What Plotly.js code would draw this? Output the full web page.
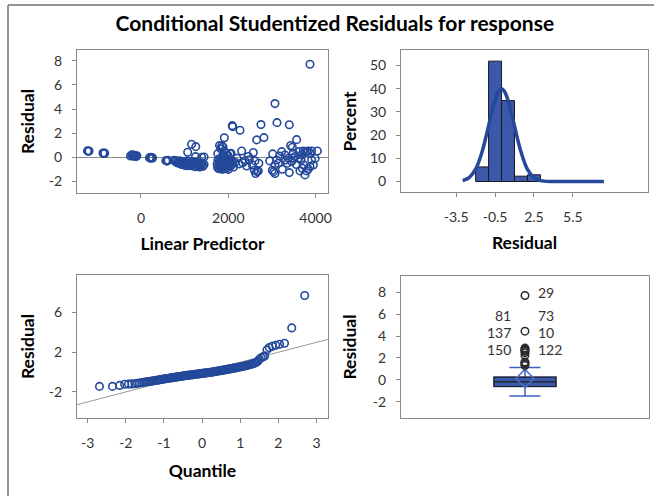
<!DOCTYPE html>
<html>
<head>
<meta charset="utf-8">
<script src="https://cdn.plot.ly/plotly-3.0.1.min.js"></script>
<style>html,body{margin:0;padding:0;background:#fff;}#chart{width:654px;height:496px;}</style>
</head>
<body>
<div id="chart"></div>
<script>
// ---------- DATA ----------
// Top-left: residual vs linear predictor
var predictor = [
  -1225,-1205,-1190, -870,-850,-830,
  -240,-210,-190,-170,-150,-130,-110,-95,
  195,215,235,250,265, 570,595,620,
  760,790,810,830,850,870,890,905,920,940,960,975,990,1010,1030,1050,1065,1080,1100,1120,
  1140,1160,1180,1200,1220,1240,1260,1280,1300,1320,1340,1360,1380,1400,1420,1445,
  1070,1160,1255,1390,1445,1250,
  1909,1800,1850,1880,1830,1760,1900,1950,2040,1990,
  1745,1755,1765,1775,1785,1795,1805,1815,1825,1835,1845,1855,1865,1875,1885,1895,1905,1915,
  1925,1935,1945,1955,1965,1975,1985,1995,2005,2015,2030,2045,2060,2080,2100,2120,1880,
  2306,2062,2199,2153,2383,2459,2574,2612,2551,2596,2657,2627,2688,3017,3108,3070,3146,3039,
  3070,3009,3238,3223,3299,3314,3375,3398,3452,3490,3528,3490,3429,3467,3566,3620,3681,3719,
  3757,3795,3833,3872,3910,4040,3666,3696,3643,3757,3795,3833,3872,3727,3948,3910,3605,
  2818,2650,2749,2268,2092,2100,3116,3398,3070,3872,
  2250,2330,2420,2480,2700,2950,3180,3350,3560,3990
];
var residual = [
  0.53,0.50,0.52, 0.35,0.32,0.34,
  0.10,0.20,0.12,0.18,0.08,0.15,0.06,0.12,
  -0.05,0.00,-0.08,-0.02,-0.06, -0.28,-0.32,-0.25,
  -0.25,-0.35,-0.30,-0.45,-0.40,-0.50,-0.30,-0.55,-0.45,-0.60,-0.35,-0.50,-0.65,-0.40,-0.55,-0.70,-0.30,-0.50,-0.60,-0.45,
  -0.70,-0.55,-0.35,-0.65,-0.50,-0.78,-0.40,-0.60,-0.72,-0.50,-0.80,-0.55,-0.65,-0.45,-0.75,-0.60,
  0.42,1.08,0.88,0.00,0.02,0.05,
  1.62,0.98,0.95,0.85,0.70,0.30,0.50,0.35,0.30,0.15,
  -0.55,-0.85,-0.20,-0.70,-0.95,-0.40,-0.10,-0.75,-0.60,-0.90,-0.30,-0.50,-1.00,-0.15,-0.65,-0.80,-0.35,0.05,
  -0.55,-0.95,-0.25,-0.70,-0.45,-0.85,0.10,-0.60,-1.00,-0.30,-0.75,-0.50,-0.20,-0.65,-0.40,-0.80,0.20,
  0.52,0.33,-0.08,-0.41,-0.30,0.06,0.39,-0.30,-0.64,-1.08,-1.19,-1.35,-1.13,0.28,-0.22,-0.64,-0.50,-1.19,
  -1.35,-1.08,-0.99,0.47,0.19,-0.22,-0.08,-1.27,-0.36,-0.08,0.06,0.33,0.97,0.83,1.46,0.47,0.19,0.52,
  0.41,0.47,0.52,0.33,0.52,0.52,-0.22,-0.91,-1.13,-1.46,-1.13,-0.97,-0.77,-0.64,-0.64,-0.22,-0.08,
  1.63,1.44,2.71,2.24,2.62,2.54,2.87,2.70,4.45,7.71,
  -0.55,-0.45,-0.72,-0.20,-0.50,-0.30,0.10,-0.50,-0.60,-0.10
];

// Top-right: histogram of residuals (percent) and fitted normal curve
var binMid = [-1.5, -0.5, 0.5, 1.5, 2.5];
var binPercent = [6.3, 51.9, 34.9, 2.3, 2.9];
var curveX = [-3.0,-2.5,-2.0,-1.5,-1.25,-1.0,-0.75,-0.5,-0.25,0.0,0.25,0.5,0.75,1.0,1.25,1.5,2.0,2.5,3.0,4.0,5.0,6.0,7.0,7.9];
var curveY = [0.4,1.7,5.3,12.8,18.2,24.0,30.0,35.0,38.7,40.0,38.6,35.0,29.8,24.0,18.0,12.8,5.2,1.7,0.4,0,0,0,0,0];
var histTicks = ['-3.5','-0.5','2.5','5.5'];

// Bottom-left: normal quantile plot
var qqQuantile = [-2.69,-2.35,-2.16,-2.03,-1.93,-1.84,-1.76,-1.70,-1.64,-1.58,-1.53,-1.48,-1.43,-1.39,-1.35,-1.31,-1.27,-1.23,-1.19,-1.15,
  -1.12,-1.08,-1.05,-1.01,-0.98,-0.94,-0.91,-0.88,-0.84,-0.81,-0.78,-0.75,-0.72,-0.69,-0.66,-0.63,-0.60,-0.57,-0.54,-0.51,
  -0.48,-0.45,-0.42,-0.39,-0.36,-0.33,-0.30,-0.27,-0.24,-0.21,-0.18,-0.15,-0.12,-0.09,-0.06,-0.03,0.00,0.03,0.06,0.09,
  0.12,0.15,0.18,0.21,0.24,0.27,0.30,0.33,0.36,0.39,0.42,0.45,0.48,0.51,0.54,0.57,0.60,0.63,0.66,0.70,
  0.73,0.76,0.80,0.83,0.87,0.90,0.94,0.98,1.02,1.06,1.10,1.14,1.18,1.22,1.26,1.30,1.34,1.38,1.42,1.46,
  1.50,1.55,1.60,1.64,1.70,1.76,1.84,1.93,2.03,2.16,2.35,2.69];
var qqResidual = [-1.44,-1.44,-1.34,-1.22,-1.21,-1.19,-1.17,-1.13,-1.10,-1.06,-1.02,-0.99,-0.96,-0.94,-0.92,-0.90,-0.87,-0.85,-0.82,-0.80,
  -0.78,-0.75,-0.73,-0.70,-0.68,-0.66,-0.64,-0.62,-0.60,-0.58,-0.56,-0.54,-0.52,-0.50,-0.49,-0.47,-0.45,-0.44,-0.42,-0.40,
  -0.38,-0.37,-0.35,-0.33,-0.32,-0.30,-0.29,-0.27,-0.26,-0.24,-0.22,-0.21,-0.19,-0.18,-0.16,-0.15,-0.13,-0.12,-0.10,-0.09,
  -0.07,-0.06,-0.04,-0.02,-0.01,0.01,0.03,0.05,0.07,0.09,0.11,0.13,0.15,0.17,0.19,0.21,0.23,0.25,0.27,0.30,
  0.32,0.35,0.37,0.40,0.42,0.45,0.48,0.51,0.54,0.57,0.60,0.64,0.68,0.72,0.76,0.80,0.85,0.92,1.00,1.08,
  1.30,1.44,1.55,1.63,2.24,2.48,2.60,2.70,2.80,2.90,4.45,7.71];
var qqLineX = [-3.28, 3.30];
var qqLineY = [-3.28, 3.30];

// Bottom-right: box plot of residuals
var boxQ1 = -0.61, boxMedian = -0.19, boxQ3 = 0.24, boxLow = -1.47, boxHigh = 1.12, boxMean = 0.12;
var outlierValues = [7.71, 4.45, 2.90, 2.80, 2.70, 2.60, 2.48, 2.24, 1.63, 1.55, 1.44, 1.30];
var outlierIdsLeft = ['81', '137', '150'];
var outlierIdsRight = ['29', '73', '10', '122'];

// ---------- STYLE ----------
var FONT = 'Lato, "Open Sans", "Liberation Sans", sans-serif';
var blue = '#24499a';
var fillBlue = '#3b58aa';
var frame = '#8a8a8a';
var tickFont = {family: FONT, size: 14, color: '#333'};
var titleFont = {family: FONT, size: 17.5, color: '#000', weight: 'bold'};

function axisBase(extra) {
  var a = {
    showline: true, mirror: true, linecolor: frame, linewidth: 1,
    showgrid: false, zeroline: false,
    ticks: 'outside', ticklen: 4, tickcolor: frame, tickwidth: 1,
    tickfont: tickFont, fixedrange: true
  };
  for (var k in extra) a[k] = extra[k];
  return a;
}

var traces = [
  {type: 'scatter', mode: 'markers', x: predictor, y: residual, xaxis: 'x', yaxis: 'y',
   marker: {symbol: 'circle-open', size: 7.5, color: blue, line: {width: 1.6}}, hoverinfo: 'skip'},
  {type: 'bar', x: binMid, y: binPercent, width: 1, xaxis: 'x2', yaxis: 'y2',
   marker: {color: fillBlue, line: {color: '#1a1a1a', width: 1}}, hoverinfo: 'skip'},
  {type: 'scatter', mode: 'lines', x: curveX, y: curveY, xaxis: 'x2', yaxis: 'y2',
   line: {color: blue, width: 3.5, shape: 'spline'}, hoverinfo: 'skip'},
  {type: 'scatter', mode: 'lines', x: qqLineX, y: qqLineY, xaxis: 'x3', yaxis: 'y3',
   line: {color: '#9a9a9a', width: 1}, hoverinfo: 'skip'},
  {type: 'scatter', mode: 'markers', x: qqQuantile, y: qqResidual, xaxis: 'x3', yaxis: 'y3',
   marker: {symbol: 'circle-open', size: 7.5, color: blue, line: {width: 1.6}}, hoverinfo: 'skip'},
  {type: 'box', x: [0], q1: [boxQ1], median: [boxMedian], q3: [boxQ3], lowerfence: [boxLow], upperfence: [boxHigh],
   width: 1, whiskerwidth: 0.5, xaxis: 'x4', yaxis: 'y4', fillcolor: fillBlue,
   line: {color: '#3b62bd', width: 1.5}, hoverinfo: 'skip'},
  {type: 'box', x: [0], q1: [boxQ1], median: [boxMedian], q3: [boxQ3], lowerfence: [boxQ1], upperfence: [boxQ3],
   width: 1, whiskerwidth: 0, xaxis: 'x4', yaxis: 'y4', fillcolor: fillBlue,
   line: {color: '#1e1e1e', width: 1.2}, hoverinfo: 'skip'},
  {type: 'scatter', mode: 'markers', x: [0], y: [boxMean], xaxis: 'x4', yaxis: 'y4',
   marker: {symbol: 'diamond-open', size: 14, color: '#4a6fcc', line: {width: 1.5}}, hoverinfo: 'skip'},
  {type: 'scatter', mode: 'markers', x: outlierValues.map(function(){return 0;}), y: outlierValues, xaxis: 'x4', yaxis: 'y4',
   marker: {symbol: 'circle-open', size: 7.5, color: '#2a2a2a', line: {width: 1.5}}, hoverinfo: 'skip'}
];

// label placement (layout only)
var leftLabelY = [5.84, 4.35, 2.80];
var rightLabelY = [7.97, 5.84, 4.35, 2.80];
var annotations = [];
outlierIdsLeft.forEach(function(t, i) {
  annotations.push({xref: 'x4', yref: 'y4', x: -0.19, y: leftLabelY[i], text: t, showarrow: false,
    xanchor: 'right', yanchor: 'middle', font: {family: FONT, size: 14, color: '#333'}});
});
outlierIdsRight.forEach(function(t, i) {
  annotations.push({xref: 'x4', yref: 'y4', x: 0.17, y: rightLabelY[i], text: t, showarrow: false,
    xanchor: 'left', yanchor: 'middle', font: {family: FONT, size: 14, color: '#333'}});
});

var layout = {
  width: 654, height: 496,
  margin: {l: 0, r: 0, t: 0, b: 0},
  paper_bgcolor: '#fff', plot_bgcolor: '#fff',
  showlegend: false,
  boxmode: 'overlay',
  title: {text: '<b>Conditional Studentized Residuals for response</b>', x: 0.512, xanchor: 'center',
          y: 0.953, yanchor: 'middle', font: {family: FONT, size: 21, color: '#000'}},
  xaxis: axisBase({domain: [0.1177, 0.5015], range: [-1466, 4284], tickvals: [0, 2000, 4000],
    ticklabelstandoff: 8, title: {text: 'Linear Predictor', font: titleFont, standoff: 12}, anchor: 'y'}),
  yaxis: axisBase({domain: [0.6109, 0.8992], range: [-2.96, 8.89], tickvals: [-2, 0, 2, 4, 6, 8],
    ticktext: ['-2', '0', '2', '4', '6', '8'], zeroline: true, zerolinecolor: '#8a8a8a', zerolinewidth: 1,
    ticklabelstandoff: 7, title: {text: 'Residual', font: titleFont, standoff: 9}, anchor: 'x'}),
  xaxis2: axisBase({domain: [0.6131, 0.9908], range: [-7.76, 11.3], tickvals: [-3.5, -0.5, 2.5, 5.5],
    ticktext: histTicks, ticklabelstandoff: 8, title: {text: 'Residual', font: titleFont, standoff: 12}, anchor: 'y2'}),
  yaxis2: axisBase({domain: [0.6119, 0.8982], range: [-4.74, 56.5], tickvals: [0, 10, 20, 30, 40, 50],
    ticklabelstandoff: 7, title: {text: 'Percent', font: titleFont, standoff: 8}, anchor: 'x2'}),
  xaxis3: axisBase({domain: [0.1177, 0.5015], range: [-3.28, 3.30], tickvals: [-3, -2, -1, 0, 1, 2, 3],
    ticktext: ['-3', '-2', '-1', '0', '1', '2', '3'], ticklabelstandoff: 8,
    title: {text: 'Quantile', font: titleFont, standoff: 14}, anchor: 'y3'}),
  yaxis3: axisBase({domain: [0.1573, 0.4456], range: [-4.62, 9.78], tickvals: [-2, 2, 6],
    ticktext: ['-2', '2', '6'], ticklabelstandoff: 7, title: {text: 'Residual', font: titleFont, standoff: 9}, anchor: 'x3'}),
  xaxis4: axisBase({domain: [0.6131, 0.9923], range: [-2, 2], showticklabels: false, ticks: '', anchor: 'y4'}),
  yaxis4: axisBase({domain: [0.1573, 0.4435], range: [-3.49, 9.49], tickvals: [-2, 0, 2, 4, 6, 8],
    ticktext: ['-2', '0', '2', '4', '6', '8'], ticklabelstandoff: 7,
    title: {text: 'Residual', font: titleFont, standoff: 11}, anchor: 'x4'}),
  annotations: annotations,
  shapes: [
    {type: 'line', xref: 'paper', yref: 'paper', x0: 8 / 654, x1: 1, y0: 1 - 5 / 496, y1: 1 - 5 / 496,
     line: {color: '#707070', width: 1.5}},
    {type: 'line', xref: 'paper', yref: 'paper', x0: 8 / 654, x1: 8 / 654, y0: 0, y1: 1 - 5 / 496,
     line: {color: '#707070', width: 1.5}}
  ]
};

Plotly.newPlot('chart', traces, layout, {staticPlot: true, displayModeBar: false});
</script>
</body>
</html>
